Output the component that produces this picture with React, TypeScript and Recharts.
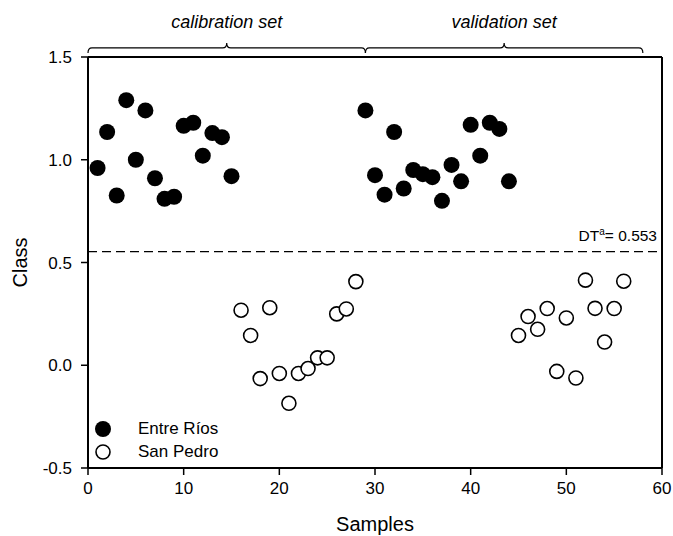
import { ScatterChart, Scatter, XAxis, YAxis, ReferenceLine } from "recharts";

// Entre Ríos (filled) – sample number and class value
const entreRiosSamples = [1, 2, 3, 4, 5, 6, 7, 8, 9, 10, 11, 12, 13, 14, 15,
  29, 30, 31, 32, 33, 34, 35, 36, 37, 38, 39, 40, 41, 42, 43, 44];
const entreRiosClass = [0.96, 1.135, 0.826, 1.29, 1.0, 1.24, 0.91, 0.81, 0.82, 1.165, 1.18, 1.02, 1.13, 1.11, 0.92,
  1.24, 0.925, 0.83, 1.135, 0.86, 0.95, 0.93, 0.915, 0.8, 0.975, 0.895, 1.17, 1.02, 1.18, 1.15, 0.895];

// San Pedro (open)
const sanPedroSamples = [16, 17, 18, 19, 20, 21, 22, 23, 24, 25, 26, 27, 28,
  45, 46, 47, 48, 49, 50, 51, 52, 53, 54, 55, 56];
const sanPedroClass = [0.268, 0.145, -0.065, 0.28, -0.04, -0.185, -0.04, -0.016, 0.036, 0.036, 0.25, 0.274, 0.407,
  0.145, 0.237, 0.175, 0.276, -0.03, 0.23, -0.062, 0.414, 0.277, 0.113, 0.276, 0.409];

const threshold = 0.553;
const xTicks = [0, 10, 20, 30, 40, 50, 60];
const yTicks = [-0.5, 0, 0.5, 1, 1.5];

// sample ranges for the braces above the plot
const setNames = ["calibration set", "validation set"];
const setStarts = [0, 29];
const setEnds = [29, 58];
const braceLevel = 1.544;

const FONT = "'Liberation Sans', Arial, sans-serif";

const entreRios = entreRiosSamples.map((s, i) => ({ sample: s, value: entreRiosClass[i] }));
const sanPedro = sanPedroSamples.map((s, i) => ({ sample: s, value: sanPedroClass[i] }));

const FilledDot = (p: any) => <circle cx={p.cx} cy={p.cy} r={8} fill="#000" />;
const OpenDot = (p: any) => (
  <circle cx={p.cx} cy={p.cy} r={7} fill="#fff" stroke="#000" strokeWidth={1.6} />
);

function braceShape(name: string) {
  return (p: any) => {
    const x1 = Math.min(p.x1, p.x2);
    const x2 = Math.max(p.x1, p.x2);
    const y = p.y1;
    const m = (x1 + x2) / 2;
    const d = `M${x1},${y + 5} Q${x1},${y} ${x1 + 4},${y} L${m - 4},${y} Q${m},${y} ${m},${y - 5} Q${m},${y} ${m + 4},${y} L${x2 - 4},${y} Q${x2},${y} ${x2},${y + 5}`;
    return (
      <g>
        <path d={d} fill="none" stroke="#000" strokeWidth={1.2} />
        <text x={m} y={y - 20} textAnchor="middle" fontStyle="italic" fontSize={18} fontFamily={FONT} fill="#000">
          {name}
        </text>
      </g>
    );
  };
}

const thresholdLabel = (p: any) => {
  const vb = p.viewBox;
  return (
    <text x={vb.x + vb.width - 5} y={vb.y - 11} textAnchor="end" fontSize={15.5} fontFamily={FONT} fill="#000">
      DT<tspan dy={-6} fontSize={10}>a</tspan>
      <tspan dy={6}>= {threshold.toFixed(3)}</tspan>
    </text>
  );
};

const legendItems = [
  { name: "Entre Ríos", filled: true },
  { name: "San Pedro", filled: false },
];

const LegendBox = () => (
  <div style={{ position: "absolute", left: 94, top: 417, fontFamily: FONT, fontSize: 17, color: "#000" }}>
    {legendItems.map((it) => (
      <div key={it.name} style={{ display: "flex", alignItems: "center", height: 23 }}>
        <svg width={18} height={18}>
          {it.filled ? (
            <circle cx={9} cy={9} r={8} fill="#000" />
          ) : (
            <circle cx={9} cy={9} r={7} fill="#fff" stroke="#000" strokeWidth={1.6} />
          )}
        </svg>
        <span style={{ marginLeft: 26 }}>{it.name}</span>
      </div>
    ))}
  </div>
);

export default function App() {
  const tickStyle = { fontSize: 17, fontFamily: FONT, fill: "#000" };
  return (
    <div style={{ position: "relative", width: 673, height: 536 }}>
      <style>{`body{margin:0}`}</style>
      <ScatterChart width={673} height={536} margin={{ top: 57, right: 11, left: 0, bottom: 0 }}>
        <XAxis
          type="number"
          dataKey="sample"
          domain={[0, 60]}
          ticks={xTicks}
          height={68}
          axisLine={{ stroke: "#000", strokeWidth: 2 }}
          tickLine={{ stroke: "#000", strokeWidth: 1.5 }}
          tickSize={7}
          tick={tickStyle}
          tickMargin={7}
          label={{ value: "Samples", position: "insideBottom", offset: 5, fontSize: 20, fontFamily: FONT, fill: "#000" }}
        />
        <YAxis
          type="number"
          dataKey="value"
          domain={[-0.5, 1.5]}
          ticks={yTicks}
          width={88}
          axisLine={{ stroke: "#000", strokeWidth: 2 }}
          tickLine={{ stroke: "#000", strokeWidth: 1.5 }}
          tickSize={7}
          tick={tickStyle}
          tickMargin={9}
          tickFormatter={(v: number) => v.toFixed(1)}
          label={{ value: "Class", angle: -90, position: "insideLeft", offset: 20, fontSize: 20, fontFamily: FONT, fill: "#000", style: { textAnchor: "middle" } }}
        />
        <ReferenceLine y={1.5} stroke="#000" strokeWidth={2} />
        <ReferenceLine x={60} stroke="#000" strokeWidth={2} />
        <ReferenceLine
          y={threshold}
          stroke="#000"
          strokeWidth={1.4}
          strokeDasharray="9 5"
          label={thresholdLabel}
        />
        {setNames.map((n, i) => (
          <ReferenceLine
            key={n}
            segment={[
              { x: setStarts[i], y: braceLevel },
              { x: setEnds[i], y: braceLevel },
            ]}
            ifOverflow="visible"
            shape={braceShape(n)}
          />
        ))}
        <Scatter name="Entre Ríos" data={entreRios} shape={FilledDot} isAnimationActive={false} />
        <Scatter name="San Pedro" data={sanPedro} shape={OpenDot} isAnimationActive={false} />
      </ScatterChart>
      <LegendBox />
    </div>
  );
}
